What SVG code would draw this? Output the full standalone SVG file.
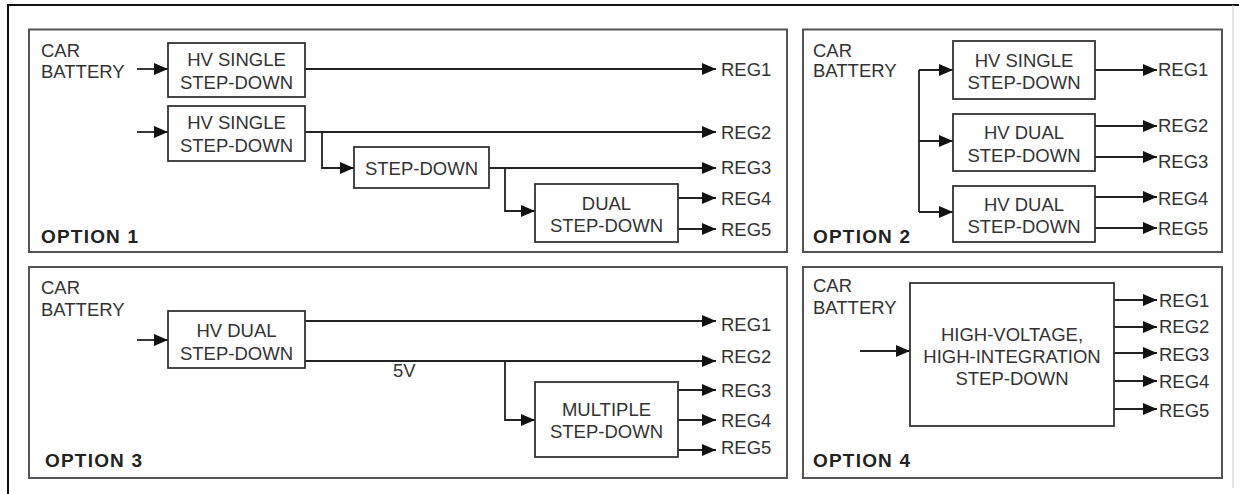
<svg xmlns="http://www.w3.org/2000/svg" width="1239" height="494" viewBox="0 0 1239 494">
<defs>
<marker id="ah" markerUnits="userSpaceOnUse" markerWidth="15" markerHeight="13" refX="14" refY="6" orient="auto">
<path d="M0,0 L14,6 L0,12 Z" fill="#111"/>
</marker>
<style>
.frame{fill:none;stroke:#111;stroke-width:2}
.panel{fill:none;stroke:#555;stroke-width:2}
.box{fill:#fff;stroke:#333;stroke-width:1.8}
.t{font-family:"Liberation Sans",Arial,sans-serif;font-size:18.5px;fill:#333}
.c{text-anchor:middle}
.opt{font-family:"Liberation Sans",Arial,sans-serif;font-size:19px;font-weight:bold;fill:#222;letter-spacing:1.2px}
.w{fill:none;stroke:#222;stroke-width:1.8}
.a{fill:none;stroke:#222;stroke-width:1.8;marker-end:url(#ah)}
</style>
</defs>
<rect width="1239" height="494" fill="#fff"/>
<path class="frame" d="M8,494 V5 H1239"/>
<path d="M1233,5 V488" stroke="#ccc" stroke-width="1" fill="none"/>

<g id="panels">
<rect class="panel" x="29" y="29.5" width="758" height="222.5"/>
<rect class="panel" x="803" y="29.5" width="419" height="222.5"/>
<rect class="panel" x="29" y="267" width="758" height="211"/>
<rect class="panel" x="803" y="267" width="419" height="211"/>
</g>

<g id="connectors">
<!-- option 1 -->
<path class="a" d="M137,69 H168"/>
<path class="a" d="M305,69 H716"/>
<path class="a" d="M137,132 H168"/>
<path class="a" d="M305,132 H716"/>
<path class="a" d="M322,132 V168 H354"/>
<path class="a" d="M489,168 H716"/>
<path class="a" d="M505,168 V211 H535"/>
<path class="a" d="M678,198 H716"/>
<path class="a" d="M678,229 H716"/>
<!-- option 2 -->
<path class="w" d="M919,70 V212"/>
<path class="a" d="M919,70 H953"/>
<path class="a" d="M919,141 H953"/>
<path class="a" d="M919,212 H953"/>
<path class="a" d="M1095,70 H1157"/>
<path class="a" d="M1095,126 H1157"/>
<path class="a" d="M1095,157 H1157"/>
<path class="a" d="M1095,197 H1157"/>
<path class="a" d="M1095,228 H1157"/>
<!-- option 3 -->
<path class="a" d="M137,340 H168"/>
<path class="a" d="M305,321 H716"/>
<path class="a" d="M305,361 H716"/>
<path class="a" d="M505,361 V420 H535"/>
<path class="a" d="M678,390 H716"/>
<path class="a" d="M678,420 H716"/>
<path class="a" d="M678,450 H716"/>
<!-- option 4 -->
<path class="a" d="M860,351 H910"/>
<path class="a" d="M1114,300 H1157"/>
<path class="a" d="M1114,327 H1157"/>
<path class="a" d="M1114,353 H1157"/>
<path class="a" d="M1114,381 H1157"/>
<path class="a" d="M1114,409 H1157"/>
</g>

<!-- OPTION 1 -->
<g id="opt1-battery"><text class="t" x="41" y="57">CAR</text><text class="t" x="41" y="78">BATTERY</text></g>
<g id="opt1-hvsingle1"><rect class="box" x="168" y="43" width="137" height="54"/><text class="t c" x="236.5" y="66">HV SINGLE</text><text class="t c" x="236.5" y="89">STEP-DOWN</text></g>
<g id="opt1-hvsingle2"><rect class="box" x="168" y="106" width="137" height="55"/><text class="t c" x="236.5" y="129">HV SINGLE</text><text class="t c" x="236.5" y="152">STEP-DOWN</text></g>
<g id="opt1-stepdown"><rect class="box" x="354" y="147" width="135" height="41"/><text class="t c" x="421.5" y="175">STEP-DOWN</text></g>
<g id="opt1-dual"><rect class="box" x="535" y="184" width="143" height="58"/><text class="t c" x="606.5" y="210">DUAL</text><text class="t c" x="606.5" y="232">STEP-DOWN</text></g>
<g id="opt1-regs">
<text class="t" x="721" y="76">REG1</text>
<text class="t" x="721" y="139">REG2</text>
<text class="t" x="721" y="174">REG3</text>
<text class="t" x="721" y="205">REG4</text>
<text class="t" x="721" y="236">REG5</text>
</g>
<text class="opt" x="41" y="243">OPTION 1</text>

<!-- OPTION 2 -->
<g id="opt2-battery"><text class="t" x="813" y="57">CAR</text><text class="t" x="813" y="77">BATTERY</text></g>
<g id="opt2-hvsingle"><rect class="box" x="953" y="41" width="142" height="58"/><text class="t c" x="1024" y="66.5">HV SINGLE</text><text class="t c" x="1024" y="89">STEP-DOWN</text></g>
<g id="opt2-hvdual1"><rect class="box" x="953" y="114" width="142" height="57"/><text class="t c" x="1024" y="139">HV DUAL</text><text class="t c" x="1024" y="162">STEP-DOWN</text></g>
<g id="opt2-hvdual2"><rect class="box" x="953" y="186" width="142" height="56"/><text class="t c" x="1024" y="211">HV DUAL</text><text class="t c" x="1024" y="233">STEP-DOWN</text></g>
<g id="opt2-regs">
<text class="t" x="1158" y="76">REG1</text>
<text class="t" x="1158" y="132">REG2</text>
<text class="t" x="1158" y="168">REG3</text>
<text class="t" x="1158" y="205">REG4</text>
<text class="t" x="1158" y="235">REG5</text>
</g>
<text class="opt" x="813" y="243">OPTION 2</text>

<!-- OPTION 3 -->
<g id="opt3-battery"><text class="t" x="41" y="294">CAR</text><text class="t" x="41" y="316">BATTERY</text></g>
<g id="opt3-hvdual"><rect class="box" x="168" y="311" width="137" height="57"/><text class="t c" x="236.5" y="337">HV DUAL</text><text class="t c" x="236.5" y="360">STEP-DOWN</text></g>
<g id="opt3-multiple"><rect class="box" x="535" y="382" width="143" height="75"/><text class="t c" x="606.5" y="416">MULTIPLE</text><text class="t c" x="606.5" y="438">STEP-DOWN</text></g>
<text class="t" x="393" y="377">5V</text>
<g id="opt3-regs">
<text class="t" x="721" y="331">REG1</text>
<text class="t" x="721" y="363">REG2</text>
<text class="t" x="721" y="397">REG3</text>
<text class="t" x="721" y="427">REG4</text>
<text class="t" x="721" y="454">REG5</text>
</g>
<text class="opt" x="45" y="467">OPTION 3</text>

<!-- OPTION 4 -->
<g id="opt4-battery"><text class="t" x="813" y="292">CAR</text><text class="t" x="813" y="314">BATTERY</text></g>
<g id="opt4-hv"><rect class="box" x="910" y="283" width="204" height="143"/><text class="t c" x="1012" y="341">HIGH-VOLTAGE,</text><text class="t c" x="1012" y="363">HIGH-INTEGRATION</text><text class="t c" x="1012" y="385">STEP-DOWN</text></g>
<g id="opt4-regs">
<text class="t" x="1159" y="307">REG1</text>
<text class="t" x="1159" y="333">REG2</text>
<text class="t" x="1159" y="361">REG3</text>
<text class="t" x="1159" y="388">REG4</text>
<text class="t" x="1159" y="417">REG5</text>
</g>
<text class="opt" x="813" y="467">OPTION 4</text>
</svg>
